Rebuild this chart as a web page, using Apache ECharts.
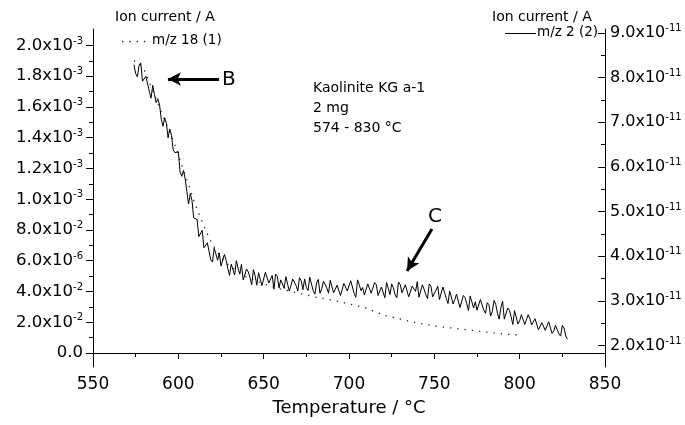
<!DOCTYPE html>
<html>
<head>
<meta charset="utf-8">
<script src="https://cdn.jsdelivr.net/npm/echarts@6/dist/echarts.min.js"></script>
<style>
html,body{margin:0;padding:0;background:#fff;}
#chart{width:685px;height:425px;}
</style>
</head>
<body>
<div id="chart"></div>
<script>
// ---- Data: m/z 2 (right axis, units of 1e-11 A) ----
const mz2Temps = [574,575,576,577,578,579,580,581,582,583,584,585,586,587,588,589,590,591,592,593,
  594,595,596,597,598,599,600,601,602,603,604,605,606,607,608,609,610,611,612,613,
  614,615,616,617,618,619,620,621,622,623,624,625,626,627,628,629,630,631,632,633,
  634,635,636,637,638,639,640,641,642,643,644,645,646,647,648,649,650,651,652,653,
  654,655,656,657,658,659,660,661,662,663,664,665,666,667,668,669,670,671,672,673,
  674,675,676,677,678,679,680,681,682,683,684,685,686,687,688,689,690,691,692,693,
  694,695,696,697,698,699,700,701,702,703,704,705,706,707,708,709,710,711,712,713,
  714,715,716,717,718,719,720,721,722,723,724,725,726,727,728,729,730,731,732,733,
  734,735,736,737,738,739,740,741,742,743,744,745,746,747,748,749,750,751,752,753,
  754,755,756,757,758,759,760,761,762,763,764,765,766,767,768,769,770,771,772,773,
  774,775,776,777,778,779,780,781,782,783,784,785,786,787,788,789,790,791,792,793,
  794,795,796,797,798,799,800,801,802,803,804,805,806,807,808,809,810,811,812,813,
  814,815,816,817,818,819,820,821,822,823,824,825,826,827,828];
const mz2Values = [8.29,8.09,8.02,8.28,8.33,7.92,7.94,8.03,8.06,7.69,7.54,7.83,7.62,7.44,7.53,7.39,7.07,6.91,7.10,6.98,
  6.65,6.85,6.71,6.38,6.32,6.30,6.34,5.89,5.79,5.92,5.73,5.45,5.17,5.40,5.25,4.86,4.88,4.82,4.44,4.48,
  4.58,4.19,4.16,4.30,4.26,3.92,3.87,4.18,4.05,3.91,4.07,3.78,3.74,4.04,3.91,3.72,3.57,3.82,3.85,3.58,
  3.90,3.73,3.60,3.82,3.47,3.50,3.71,3.65,3.52,3.36,3.70,3.56,3.35,3.63,3.59,3.34,3.38,3.64,3.62,3.40,
  3.38,3.57,3.26,3.60,3.55,3.29,3.47,3.44,3.28,3.54,3.57,3.22,3.34,3.49,3.49,3.34,3.22,3.52,3.45,3.25,
  3.49,3.30,3.23,3.53,3.38,3.23,3.15,3.40,3.48,3.17,3.27,3.44,3.43,3.29,3.17,3.46,3.49,3.18,3.21,3.35,
  3.36,3.12,3.13,3.39,3.41,3.22,3.26,3.45,3.42,3.17,3.08,3.47,3.36,3.23,3.30,3.13,3.15,3.38,3.42,3.17,
  3.19,3.41,3.36,3.12,3.10,3.31,3.32,3.07,3.41,3.28,3.14,3.38,3.29,3.14,3.07,3.42,3.37,3.18,3.18,3.36,
  3.34,3.09,3.10,3.33,3.31,3.21,3.43,3.08,3.11,3.36,3.26,3.14,3.05,3.38,3.33,3.09,3.12,3.24,3.33,3.03,
  3.05,3.31,3.19,3.05,2.94,3.22,3.19,2.93,3.03,3.15,3.18,2.85,2.89,3.12,3.07,2.94,2.78,3.11,3.07,2.84,
  2.98,2.79,2.80,3.03,3.04,2.79,2.72,2.96,2.91,2.66,2.77,3.01,2.92,2.72,2.59,2.85,2.99,2.59,2.60,2.84,
  2.79,2.64,2.47,2.78,2.76,2.48,2.55,2.69,2.73,2.47,2.44,2.69,2.60,2.46,2.42,2.60,2.61,2.35,2.36,2.51,
  2.48,2.34,2.31,2.53,2.53,2.27,2.33,2.45,2.47,2.26,2.21,2.45,2.39,2.21,2.14];

// ---- Data: m/z 18 (left axis, units of 1e-3 A) ----
const mz18Temps = [574,577,580,583,586,590,594,598,602,606,610,614,618,622,626,630,640,650,660,670,680,690,700,710,720,730,740,750,760,770,780,790,800];
const mz18Values = [1.90,1.886,1.84,1.763,1.678,1.567,1.463,1.353,1.223,1.093,0.962,0.852,0.748,0.670,0.611,0.566,0.494,0.449,0.416,0.390,0.364,0.345,0.319,0.293,0.247,0.221,0.195,0.176,0.163,0.150,0.137,0.124,0.117];

// ---- Axis tick labels ----
const xTickValues = [550,600,650,700,750,800,850];
const leftTickValues = [0,0.2,0.4,0.6,0.8,1.0,1.2,1.4,1.6,1.8,2.0];
const leftTickMantissas = ['0.0','2.0','4.0','6.0','8.0','1.0','1.2','1.4','1.6','1.8','2.0'];
const leftTickExponents = ['','-2','-2','-6','-2','-3','-3','-3','-3','-3','-3'];
const leftMinorValues = [0.1,0.3,0.5,0.7,0.9,1.1,1.3,1.5,1.7,1.9];
const rightTickValues = [2,3,4,5,6,7,8,9];
const rightTickMantissas = ['2.0','3.0','4.0','5.0','6.0','7.0','8.0','9.0'];
const rightTickExponents = ['-11','-11','-11','-11','-11','-11','-11','-11'];
const rightMinorValues = [2.5,3.5,4.5,5.5,6.5,7.5,8.5];

// ---- Annotation arrows (data coords on right axis) ----
const arrowB = [[623.8,7.97],[593.9,7.97]];
const arrowC = [[748.6,4.61],[734.0,3.67]];

const FONT = 'DejaVu Sans';
function makeFormatter(vals, mants, exps){
  return function(v){
    for (let i=0;i<vals.length;i++){
      if (Math.abs(vals[i]-v) < 1e-6){
        return exps[i] ? mants[i] + 'x10{s|' + exps[i] + '}' : mants[i];
      }
    }
    return '';
  };
}
const richSup = {
  s: {fontSize: 10, fontFamily: FONT, color:'#000', padding:[0,0,9,0]}
};

const LMIN = -0.091, LMAX = 2.107, RMIN = 1.518, RMAX = 9.09;

const chart = echarts.init(document.getElementById('chart'), null, {renderer:'canvas'});
const option = {
  animation: false,
  backgroundColor: '#fff',
  grid: {left: 93, right: 80, top: 29, bottom: 58, containLabel: false},
  xAxis: {
    type: 'value', min: 550, max: 850, interval: 50,
    name: 'Temperature / °C', nameLocation: 'middle', nameGap: 32,
    nameTextStyle: {fontFamily: FONT, fontSize: 18, color: '#000'},
    axisLine: {show: true, lineStyle: {color: '#000', width: 1}},
    axisTick: {show: true, inside: false, length: 6, lineStyle: {color:'#000'}},
    minorTick: {show: true, splitNumber: 2, length: 4, lineStyle: {color:'#000'}},
    splitLine: {show: false},
    axisLabel: {fontFamily: FONT, fontSize: 17, color: '#000', margin: 9,
      customValues: xTickValues}
  },
  yAxis: [
    {
      type: 'value', position: 'left', min: LMIN, max: LMAX,
      axisLine: {show: true, lineStyle: {color:'#000', width: 1}},
      axisTick: {show: true, inside: false, length: 7, customValues: leftTickValues, lineStyle:{color:'#000'}},
      splitLine: {show: false},
      axisLabel: {fontFamily: FONT, fontSize: 16.5, color:'#000', margin: 10,
        customValues: leftTickValues,
        formatter: makeFormatter(leftTickValues, leftTickMantissas, leftTickExponents),
        rich: richSup}
    },
    {
      type: 'value', position: 'right', min: RMIN, max: RMAX,
      axisLine: {show: true, lineStyle: {color:'#000', width: 1}},
      axisTick: {show: true, inside: true, length: 7, customValues: rightTickValues, lineStyle:{color:'#000'}},
      splitLine: {show: false},
      axisLabel: {fontFamily: FONT, fontSize: 16, color:'#000', margin: 5,
        customValues: rightTickValues,
        formatter: makeFormatter(rightTickValues, rightTickMantissas, rightTickExponents),
        rich: richSup}
    },
    {
      type: 'value', position: 'left', offset: 0, min: LMIN, max: LMAX,
      axisLine: {show: false},
      axisTick: {show: true, inside: false, length: 4, customValues: leftMinorValues, lineStyle:{color:'#000'}},
      splitLine: {show: false},
      axisLabel: {show: false}
    },
    {
      type: 'value', position: 'right', offset: 0, min: RMIN, max: RMAX,
      axisLine: {show: false},
      axisTick: {show: true, inside: true, length: 4, customValues: rightMinorValues, lineStyle:{color:'#000'}},
      splitLine: {show: false},
      axisLabel: {show: false}
    }
  ],
  series: [
    {
      name: 'm/z 18 (1)', type: 'line', yAxisIndex: 0,
      data: mz18Temps.map((t,i)=>[t, mz18Values[i]]),
      showSymbol: false, smooth: false, silent: true,
      lineStyle: {color:'#222', width: 1.3, type: [1.3, 6]}
    },
    {
      name: 'm/z 2 (2)', type: 'line', yAxisIndex: 1,
      data: mz2Temps.map((t,i)=>[t, mz2Values[i]]),
      showSymbol: false, smooth: false, silent: true,
      lineStyle: {color:'#000', width: 1},
      markLine: {
        silent: true, animation: false,
        symbol: ['none','arrow'], symbolSize: [10, 13],
        label: {show: false},
        lineStyle: {color:'#000', width: 3, type: 'solid'},
        data: [
          [{coord: arrowB[0]}, {coord: arrowB[1]}],
          [{coord: arrowC[0]}, {coord: arrowC[1]}]
        ]
      }
    }
  ],
  graphic: [
    {type:'text', left: 115, top: 10, style:{text:'Ion current / A', font:'14px "DejaVu Sans"', fill:'#000'}},
    {type:'line', shape:{x1:122,y1:41.5,x2:146,y2:41.5}, style:{stroke:'#222', lineWidth:1.3, lineDash:[1.3,6]}},
    {type:'text', left: 152, top: 33, style:{text:'m/z 18 (1)', font:'13.5px "DejaVu Sans"', fill:'#000'}},
    {type:'text', left: 492, top: 10, style:{text:'Ion current / A', font:'14px "DejaVu Sans"', fill:'#000'}},
    {type:'line', shape:{x1:505,y1:33.5,x2:536,y2:33.5}, style:{stroke:'#000', lineWidth:1}},
    {type:'text', left: 537, top: 25, style:{text:'m/z 2 (2)', font:'13.5px "DejaVu Sans"', fill:'#000'}},
    {type:'text', left: 313, top: 78, style:{text:'Kaolinite KG a-1\n2 mg\n574 - 830 °C', font:'14px "DejaVu Sans"', lineHeight: 20, fill:'#000'}},
    {type:'text', left: 222, top: 70, style:{text:'B', font:'20px "DejaVu Sans"', fill:'#000'}},
    {type:'text', left: 428, top: 207, style:{text:'C', font:'20px "DejaVu Sans"', fill:'#000'}}
  ]
};
chart.setOption(option);
</script>
</body>
</html>
